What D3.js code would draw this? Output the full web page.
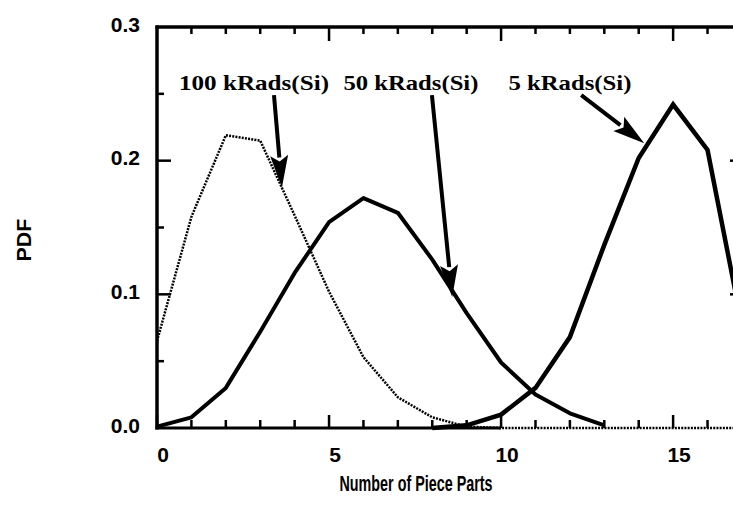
<!DOCTYPE html>
<html>
<head>
<meta charset="utf-8">
<script src="https://cdn.jsdelivr.net/npm/d3@7"></script>
<style>
  html, body { margin: 0; padding: 0; background: #fff; }
  svg { display: block; }
</style>
</head>
<body>
<div id="chart"></div>
<script>
// ---- data ----
const xValues = d3.range(0, 18); // 0..17 pieces
const pdf100k = [0.065, 0.158, 0.219, 0.215, 0.159, 0.102, 0.053, 0.023, 0.008, 0.001, 0, 0, 0, 0, 0, 0, 0, 0];
const pdf50k  = [0.001, 0.008, 0.030, 0.072, 0.116, 0.154, 0.172, 0.161, 0.126, 0.086, 0.049, 0.025, 0.011, 0.002];
const pdf5k   = [0, 0, 0, 0, 0, 0, 0, 0, 0, 0.002, 0.010, 0.030, 0.068, 0.137, 0.202, 0.242, 0.208, 0.077];
const xTickLabels = [0, 5, 10, 15];
const yTickLabels = [0.0, 0.1, 0.2, 0.3];
const labels = ["100 kRads(Si)", "50 kRads(Si)", "5 kRads(Si)"];
// annotation anchors in data units: label centre x, tail point, tip point
const labelX   = [2.82, 7.38, 12.0];
const labelY   = [0.253, 0.253, 0.253];
const tailX    = [3.40, 7.99, 12.33];
const tailY    = [0.249, 0.249, 0.249];
const tipX     = [3.63, 8.58, 14.16];
const tipY     = [0.180, 0.098, 0.213];
const labelLen = [150, 135, 123];

// ---- layout ----
const W = 733, H = 521;
const x = d3.scaleLinear().domain([0, 17.06]).range([157, 744]);
const y = d3.scaleLinear().domain([0, 0.3]).range([428, 27]);

const svg = d3.select("#chart").append("svg").attr("width", W).attr("height", H);

const sans = "'Liberation Sans', Arial, Helvetica, sans-serif";
const serif = "'Liberation Serif', 'Times New Roman', serif";

// ---- series ----
const line = d3.line().x(d => x(d[0])).y(d => y(d[1]));

svg.append("path")
  .datum(pdf100k.map((v, i) => [xValues[i], v]))
  .attr("d", line)
  .attr("fill", "none").attr("stroke", "#000").attr("stroke-width", 2.5)
  .attr("stroke-dasharray", "2 1.2");

svg.append("path")
  .datum(pdf50k.map((v, i) => [xValues[i], v]))
  .attr("d", line)
  .attr("fill", "none").attr("stroke", "#000").attr("stroke-width", 4)
  .attr("stroke-linejoin", "round");

svg.append("path")
  .datum(pdf5k.map((v, i) => [xValues[i], v]).filter(d => d[0] >= 8))
  .attr("d", line)
  .attr("fill", "none").attr("stroke", "#000").attr("stroke-width", 4.5)
  .attr("stroke-linejoin", "miter");

// ---- axes ----
const axisG = svg.append("g");

// bottom axis (solid part up to 10, dotted continuation is series baseline)
axisG.append("line")
  .attr("x1", x(0) - 1.5).attr("x2", x(10)).attr("y1", y(0)).attr("y2", y(0))
  .attr("stroke", "#000").attr("stroke-width", 3);
// left axis
axisG.append("line")
  .attr("x1", x(0)).attr("x2", x(0)).attr("y1", y(0) + 1.5).attr("y2", y(0.3) - 1.5)
  .attr("stroke", "#000").attr("stroke-width", 3.5);
// top axis
axisG.append("line")
  .attr("x1", x(0) - 1.5).attr("x2", W).attr("y1", y(0.3)).attr("y2", y(0.3))
  .attr("stroke", "#000").attr("stroke-width", 3.5);
// right axis (mostly outside)
axisG.append("line")
  .attr("x1", x(17.06)).attr("x2", x(17.06)).attr("y1", y(0)).attr("y2", y(0.3))
  .attr("stroke", "#000").attr("stroke-width", 3.5);

// bottom ticks (inward)
xValues.filter(v => x(v) < W).forEach(v => {
  const len = v % 5 === 0 ? 13 : 8;
  axisG.append("line").attr("x1", x(v)).attr("x2", x(v))
    .attr("y1", y(0)).attr("y2", y(0) - len)
    .attr("stroke", "#000").attr("stroke-width", 2.5);
});
// top ticks (inward)
xValues.filter(v => v > 0 && x(v) < W).forEach(v => {
  const len = v % 5 === 0 ? 14 : 7;
  axisG.append("line").attr("x1", x(v)).attr("x2", x(v))
    .attr("y1", y(0.3)).attr("y2", y(0.3) + len)
    .attr("stroke", "#000").attr("stroke-width", 2.5);
});
// left & right ticks
const yTicks = d3.range(0.05, 0.3, 0.05);
yTicks.forEach(v => {
  const major = Math.abs(v * 10 - Math.round(v * 10)) < 1e-6;
  const len = major ? 14 : 7;
  axisG.append("line").attr("x1", x(0)).attr("x2", x(0) + len)
    .attr("y1", y(v)).attr("y2", y(v))
    .attr("stroke", "#000").attr("stroke-width", 2.5);
  axisG.append("line").attr("x1", x(17.06)).attr("x2", x(17.06) - len)
    .attr("y1", y(v)).attr("y2", y(v))
    .attr("stroke", "#000").attr("stroke-width", 2.5);
});

// tick labels
svg.append("g").selectAll("text").data(xTickLabels).join("text")
  .attr("x", d => x(d) + 6).attr("y", 462)
  .attr("text-anchor", "middle")
  .attr("font-family", sans).attr("font-weight", "bold").attr("font-size", 21)
  .text(d => d);

svg.append("g").selectAll("text").data(yTickLabels).join("text")
  .attr("x", 140).attr("y", d => y(d) + 4.5)
  .attr("text-anchor", "end")
  .attr("font-family", sans).attr("font-weight", "bold").attr("font-size", 21)
  .text(d => d.toFixed(1));

// axis titles
svg.append("text")
  .attr("x", 416).attr("y", 491)
  .attr("text-anchor", "middle")
  .attr("font-family", sans).attr("font-weight", "bold").attr("font-size", 22)
  .attr("textLength", 153).attr("lengthAdjust", "spacingAndGlyphs")
  .text("Number of Piece Parts");

svg.append("text")
  .attr("transform", "translate(31,240) rotate(-90)")
  .attr("text-anchor", "middle")
  .attr("font-family", sans).attr("font-weight", "bold").attr("font-size", 21)
  .attr("textLength", 43).attr("lengthAdjust", "spacingAndGlyphs")
  .text("PDF");

// ---- annotations ----
labels.forEach((t, i) => {
  svg.append("text")
    .attr("x", x(labelX[i])).attr("y", y(labelY[i]))
    .attr("text-anchor", "middle")
    .attr("font-family", serif).attr("font-weight", "bold").attr("font-size", 21)
    .attr("textLength", labelLen[i]).attr("lengthAdjust", "spacingAndGlyphs")
    .text(t);

  const x1 = x(tailX[i]), y1 = y(tailY[i]), x2 = x(tipX[i]), y2 = y(tipY[i]);
  const dx = x2 - x1, dy = y2 - y1, L = Math.hypot(dx, dy);
  const ux = dx / L, uy = dy / L;
  const headLen = 32, headW = 9;
  const bx = x2 - ux * headLen, by = y2 - uy * headLen;
  svg.append("line")
    .attr("x1", x1).attr("y1", y1).attr("x2", bx + ux * 2).attr("y2", by + uy * 2)
    .attr("stroke", "#000").attr("stroke-width", 4);
  svg.append("path")
    .attr("d", `M${x2},${y2} L${bx - uy * headW},${by + ux * headW} L${bx + ux * 6},${by + uy * 6} L${bx + uy * headW},${by - ux * headW} Z`)
    .attr("fill", "#000");
});
</script>
</body>
</html>
